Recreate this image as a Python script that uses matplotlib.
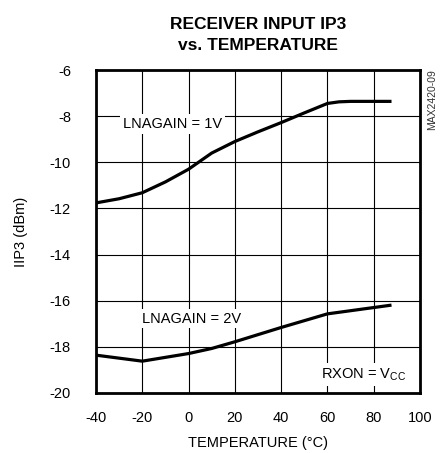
import matplotlib
matplotlib.use("Agg")
import matplotlib.pyplot as plt

plt.rcParams['font.family'] = ['Liberation Sans', 'DejaVu Sans']
plt.rcParams['axes.unicode_minus'] = False

temp_1v = [-40, -30, -20, -10, 0, 10, 20, 30, 40, 50, 60, 65, 70, 87]
iip3_1v = [-11.76, -11.58, -11.32, -10.85, -10.3, -9.6, -9.1, -8.68, -8.28, -7.86, -7.45, -7.38, -7.36, -7.36]

temp_2v = [-40, -20, 0, 10, 20, 40, 60, 87]
iip3_2v = [-18.36, -18.62, -18.29, -18.07, -17.78, -17.16, -16.57, -16.2]

x_ticks = [-40, -20, 0, 20, 40, 60, 80, 100]
y_ticks = [-20, -18, -16, -14, -12, -10, -8, -6]

fig = plt.figure(figsize=(4.43, 4.53), dpi=100)
ax = fig.add_axes([96 / 443, 1 - 393 / 453, 324 / 443, 323 / 453])

ax.plot(temp_1v, iip3_1v, color='black', linewidth=2.3, zorder=3)
ax.plot(temp_2v, iip3_2v, color='black', linewidth=2.3, zorder=3)

ax.set_xlim(-40, 100)
ax.set_ylim(-20, -6)
ax.set_xticks(x_ticks)
ax.set_yticks(y_ticks)
ax.tick_params(length=0, labelsize=10.5)
ax.tick_params(axis='x', pad=13)
ax.tick_params(axis='y', pad=18)
ax.grid(True, color='black', linewidth=0.8)
for s in ax.spines.values():
    s.set_linewidth(2)

box = dict(facecolor='white', edgecolor='none', pad=2)
ax.text(-7, -8.35, 'LNAGAIN = 1V', fontsize=10.5, ha='center', va='center', bbox=box, zorder=4)
ax.text(1.5, -16.78, 'LNAGAIN = 2V', fontsize=10.5, ha='center', va='center', bbox=box, zorder=4)
ax.text(75.5, -19.2, 'RXON = V$_{\\mathregular{CC}}$', fontsize=10.5, ha='center', va='center', bbox=box, zorder=4)

ax.set_xlabel('TEMPERATURE (°C)', fontsize=10.5, labelpad=8)
ax.set_ylabel('IIP3 (dBm)', fontsize=10.5, labelpad=16)

fig.text(258 / 443, 1 - 35 / 453, 'RECEIVER INPUT IP3\nvs. TEMPERATURE', fontsize=12.5,
         fontweight='bold', ha='center', va='center', linespacing=1.45)
fig.text(432 / 443, 1 - 100 / 453, 'MAX2420-09', fontsize=7.5, rotation=90,
         ha='center', va='center', color='#333333')

fig.savefig('out.png', dpi=100)
